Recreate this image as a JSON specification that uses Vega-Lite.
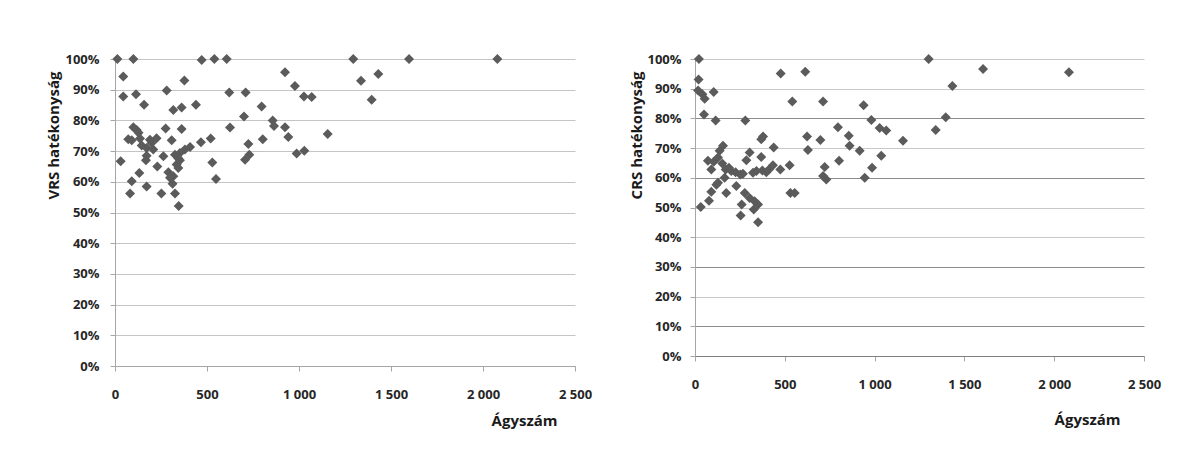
{
  "$schema": "https://vega.github.io/schema/vega-lite/v6.json",
  "background": "white",
  "padding": {"left": 45, "top": 53, "right": 5, "bottom": 5},
  "spacing": 120,
  "bounds": "flush",
  "datasets": {
    "vrs": [
      {"agyszam":13,"hatekonysag":1.0},{"agyszam":100,"hatekonysag":1.0},{"agyszam":471,"hatekonysag":0.997},{"agyszam":540,"hatekonysag":1.0},{"agyszam":607,"hatekonysag":1.0},
      {"agyszam":45,"hatekonysag":0.943},{"agyszam":924,"hatekonysag":0.957},{"agyszam":377,"hatekonysag":0.930},{"agyszam":978,"hatekonysag":0.912},{"agyszam":45,"hatekonysag":0.878},
      {"agyszam":114,"hatekonysag":0.885},{"agyszam":281,"hatekonysag":0.897},{"agyszam":621,"hatekonysag":0.891},{"agyszam":710,"hatekonysag":0.891},{"agyszam":1027,"hatekonysag":0.878},
      {"agyszam":1069,"hatekonysag":0.876},{"agyszam":158,"hatekonysag":0.851},{"agyszam":440,"hatekonysag":0.851},{"agyszam":797,"hatekonysag":0.845},{"agyszam":317,"hatekonysag":0.834},
      {"agyszam":362,"hatekonysag":0.842},{"agyszam":701,"hatekonysag":0.813},{"agyszam":857,"hatekonysag":0.800},{"agyszam":864,"hatekonysag":0.782},{"agyszam":924,"hatekonysag":0.778},
      {"agyszam":100,"hatekonysag":0.778},{"agyszam":118,"hatekonysag":0.769},{"agyszam":128,"hatekonysag":0.760},{"agyszam":275,"hatekonysag":0.774},{"agyszam":362,"hatekonysag":0.772},
      {"agyszam":625,"hatekonysag":0.777},{"agyszam":1156,"hatekonysag":0.756},{"agyszam":942,"hatekonysag":0.746},{"agyszam":803,"hatekonysag":0.739},{"agyszam":520,"hatekonysag":0.741},
      {"agyszam":72,"hatekonysag":0.739},{"agyszam":91,"hatekonysag":0.735},{"agyszam":136,"hatekonysag":0.741},{"agyszam":190,"hatekonysag":0.737},{"agyszam":226,"hatekonysag":0.742},
      {"agyszam":199,"hatekonysag":0.726},{"agyszam":308,"hatekonysag":0.735},{"agyszam":467,"hatekonysag":0.729},{"agyszam":408,"hatekonysag":0.713},{"agyszam":725,"hatekonysag":0.723},
      {"agyszam":145,"hatekonysag":0.718},{"agyszam":172,"hatekonysag":0.710},{"agyszam":208,"hatekonysag":0.705},{"agyszam":380,"hatekonysag":0.705},{"agyszam":353,"hatekonysag":0.694},
      {"agyszam":987,"hatekonysag":0.692},{"agyszam":1029,"hatekonysag":0.701},{"agyszam":730,"hatekonysag":0.688},{"agyszam":326,"hatekonysag":0.688},{"agyszam":344,"hatekonysag":0.677},
      {"agyszam":172,"hatekonysag":0.685},{"agyszam":263,"hatekonysag":0.683},{"agyszam":707,"hatekonysag":0.672},{"agyszam":31,"hatekonysag":0.667},{"agyszam":168,"hatekonysag":0.670},
      {"agyszam":353,"hatekonysag":0.670},{"agyszam":335,"hatekonysag":0.656},{"agyszam":529,"hatekonysag":0.663},{"agyszam":230,"hatekonysag":0.650},{"agyszam":344,"hatekonysag":0.645},
      {"agyszam":290,"hatekonysag":0.631},{"agyszam":132,"hatekonysag":0.629},{"agyszam":317,"hatekonysag":0.618},{"agyszam":299,"hatekonysag":0.613},{"agyszam":549,"hatekonysag":0.609},
      {"agyszam":91,"hatekonysag":0.602},{"agyszam":172,"hatekonysag":0.585},{"agyszam":313,"hatekonysag":0.594},{"agyszam":252,"hatekonysag":0.562},{"agyszam":82,"hatekonysag":0.562},
      {"agyszam":326,"hatekonysag":0.562},{"agyszam":346,"hatekonysag":0.521},{"agyszam":1295,"hatekonysag":1.0},{"agyszam":1598,"hatekonysag":1.0},{"agyszam":2078,"hatekonysag":1.0},
      {"agyszam":1337,"hatekonysag":0.929},{"agyszam":1431,"hatekonysag":0.951},{"agyszam":1395,"hatekonysag":0.867}
    ],
    "crs": [
      {"agyszam":22,"hatekonysag":1.0},{"agyszam":20,"hatekonysag":0.931},{"agyszam":17,"hatekonysag":0.894},{"agyszam":41,"hatekonysag":0.881},{"agyszam":54,"hatekonysag":0.866},
      {"agyszam":104,"hatekonysag":0.889},{"agyszam":50,"hatekonysag":0.813},{"agyszam":115,"hatekonysag":0.793},{"agyszam":280,"hatekonysag":0.793},{"agyszam":477,"hatekonysag":0.951},
      {"agyszam":614,"hatekonysag":0.957},{"agyszam":542,"hatekonysag":0.857},{"agyszam":713,"hatekonysag":0.857},{"agyszam":939,"hatekonysag":0.844},{"agyszam":982,"hatekonysag":0.795},
      {"agyszam":1028,"hatekonysag":0.768},{"agyszam":1065,"hatekonysag":0.759},{"agyszam":1158,"hatekonysag":0.725},{"agyszam":796,"hatekonysag":0.770},{"agyszam":856,"hatekonysag":0.742},
      {"agyszam":861,"hatekonysag":0.708},{"agyszam":917,"hatekonysag":0.691},{"agyszam":624,"hatekonysag":0.739},{"agyszam":629,"hatekonysag":0.694},{"agyszam":698,"hatekonysag":0.727},
      {"agyszam":379,"hatekonysag":0.739},{"agyszam":369,"hatekonysag":0.730},{"agyszam":438,"hatekonysag":0.702},{"agyszam":802,"hatekonysag":0.657},{"agyszam":722,"hatekonysag":0.636},
      {"agyszam":731,"hatekonysag":0.594},{"agyszam":713,"hatekonysag":0.606},{"agyszam":986,"hatekonysag":0.634},{"agyszam":1037,"hatekonysag":0.674},{"agyszam":945,"hatekonysag":0.600},
      {"agyszam":527,"hatekonysag":0.642},{"agyszam":475,"hatekonysag":0.628},{"agyszam":412,"hatekonysag":0.628},{"agyszam":375,"hatekonysag":0.625},{"agyszam":342,"hatekonysag":0.623},
      {"agyszam":369,"hatekonysag":0.670},{"agyszam":304,"hatekonysag":0.685},{"agyszam":286,"hatekonysag":0.659},{"agyszam":267,"hatekonysag":0.614},{"agyszam":277,"hatekonysag":0.549},
      {"agyszam":304,"hatekonysag":0.532},{"agyszam":332,"hatekonysag":0.521},{"agyszam":351,"hatekonysag":0.510},{"agyszam":327,"hatekonysag":0.493},{"agyszam":351,"hatekonysag":0.450},
      {"agyszam":254,"hatekonysag":0.473},{"agyszam":260,"hatekonysag":0.510},{"agyszam":230,"hatekonysag":0.572},{"agyszam":174,"hatekonysag":0.549},{"agyszam":531,"hatekonysag":0.549},
      {"agyszam":555,"hatekonysag":0.549},{"agyszam":32,"hatekonysag":0.502},{"agyszam":78,"hatekonysag":0.523},{"agyszam":91,"hatekonysag":0.553},{"agyszam":128,"hatekonysag":0.583},
      {"agyszam":156,"hatekonysag":0.708},{"agyszam":137,"hatekonysag":0.691},{"agyszam":72,"hatekonysag":0.657},{"agyszam":91,"hatekonysag":0.628},{"agyszam":104,"hatekonysag":0.654},
      {"agyszam":128,"hatekonysag":0.668},{"agyszam":152,"hatekonysag":0.648},{"agyszam":171,"hatekonysag":0.628},{"agyszam":189,"hatekonysag":0.634},{"agyszam":202,"hatekonysag":0.623},
      {"agyszam":226,"hatekonysag":0.619},{"agyszam":252,"hatekonysag":0.611},{"agyszam":165,"hatekonysag":0.600},{"agyszam":119,"hatekonysag":0.577},{"agyszam":434,"hatekonysag":0.642},
      {"agyszam":397,"hatekonysag":0.619},{"agyszam":323,"hatekonysag":0.617},{"agyszam":1301,"hatekonysag":1.0},{"agyszam":1604,"hatekonysag":0.966},{"agyszam":2082,"hatekonysag":0.955},
      {"agyszam":1433,"hatekonysag":0.909},{"agyszam":1396,"hatekonysag":0.804},{"agyszam":1340,"hatekonysag":0.761}
    ]
  },
  "hconcat": [
    {
      "width": 460,
      "height": 307,
      "data": {"name": "vrs"},
      "mark": {"type": "point", "shape": "diamond", "filled": true, "size": 100, "color": "#5b5b5b", "opacity": 1},
      "encoding": {
        "x": {
          "field": "agyszam", "type": "quantitative",
          "scale": {"domain": [0, 2500], "nice": false, "zero": true},
          "axis": {"title": "Ágyszám", "values": [0, 500, 1000, 1500, 2000, 2500], "grid": false,
                   "labelExpr": "replace(format(datum.value, ','), ',', ' ')", "labelPadding": 17,
                   "titleAlign": "right", "titleX": 442, "titleY": 54, "titleBaseline": "middle"}
        },
        "y": {
          "field": "hatekonysag", "type": "quantitative",
          "scale": {"domain": [0, 1], "nice": false},
          "axis": {"title": "VRS hatékonyság", "format": ".0%", "values": [0, 0.1, 0.2, 0.3, 0.4, 0.5, 0.6, 0.7, 0.8, 0.9, 1.0],
                   "labelPadding": 11, "titleAlign": "right", "titleX": -62, "titleY": 12, "titleBaseline": "middle"}
        }
      }
    },
    {
      "width": 449,
      "height": 297,
      "data": {"name": "crs"},
      "mark": {"type": "point", "shape": "diamond", "filled": true, "size": 100, "color": "#5b5b5b", "opacity": 1},
      "encoding": {
        "x": {
          "field": "agyszam", "type": "quantitative",
          "scale": {"domain": [0, 2500], "nice": false, "zero": true},
          "axis": {"title": "Ágyszám", "values": [0, 500, 1000, 1500, 2000, 2500], "grid": false,
                   "labelExpr": "replace(format(datum.value, ','), ',', ' ')", "labelPadding": 17,
                   "domainColor": "#7f7f7f",
                   "titleAlign": "right", "titleX": 425, "titleY": 63, "titleBaseline": "middle"}
        },
        "y": {
          "field": "hatekonysag", "type": "quantitative",
          "scale": {"domain": [0, 1], "nice": false},
          "axis": {"title": "CRS hatékonyság", "format": ".0%", "values": [0, 0.1, 0.2, 0.3, 0.4, 0.5, 0.6, 0.7, 0.8, 0.9, 1.0],
                   "labelPadding": 9, "titleAlign": "right", "titleX": -59, "titleY": 12, "titleBaseline": "middle",
                   "gridColor": {"condition": {"test": "indexof([0, 1, 3, 6, 8], round(datum.value * 10)) >= 0", "value": "#8c8c8c"}, "value": "#c8c8c8"}}
        }
      }
    }
  ],
  "config": {
    "view": {"stroke": null},
    "axis": {
      "labelFont": "Open Sans", "labelFontSize": 13, "labelFontWeight": "bold", "labelColor": "#262626",
      "titleFont": "Open Sans", "titleFontSize": 15, "titleFontWeight": "bold", "titleColor": "#1a1a1a",
      "domainColor": "#a6a6a6", "tickColor": "#a6a6a6", "tickSize": 5, "gridColor": "#c4c4c4", "gridWidth": 1.2,
      "labelFlush": false, "labelOverlap": false
    }
  }
}
